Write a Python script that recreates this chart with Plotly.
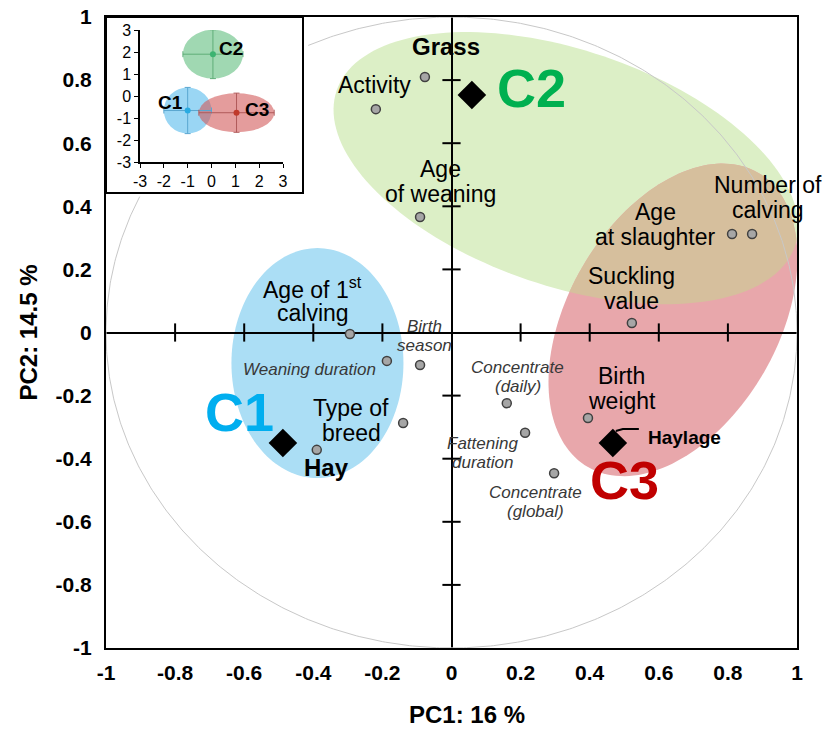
import numpy as np
import plotly.graph_objects as go

# ---------------- layout geometry ----------------
W, H = 830, 730
PL, PR, PT, PB = 106, 797, 17, 648   # plot box on the page
ML, MT = PL, PT
MR, MB = W - PR, H - PB
SX = (PR - PL) / 2.0   # px per data unit (x)
SY = (PB - PT) / 2.0   # px per data unit (y)
FONT = "Liberation Sans, Arial, sans-serif"

def paper_x(px):
    return (px - PL) / (PR - PL)

def paper_y(py):
    return (PB - py) / (PB - PT)

# ---------------- data ----------------
var_labels = ["Grass", "Activity", "Age<br>of weaning", "Number of<br>calving",
              "Age<br>at slaughter", "Suckling<br>value", "Age of 1<sup>st</sup><br>calving",
              "Birth<br>season", "Weaning duration", "Type of<br>breed", "Hay",
              "Concentrate<br>(daily)", "Birth<br>weight", "Fattening<br>duration",
              "Concentrate<br>(global)"]
pc1 = [-0.077, -0.219, -0.091, 0.870, 0.812, 0.522, -0.294, -0.091, -0.187,
       -0.140, -0.390, 0.160, 0.395, 0.213, 0.297]
pc2 = [0.810, 0.708, 0.366, 0.312, 0.312, 0.030, -0.005, -0.103, -0.090,
       -0.287, -0.372, -0.224, -0.271, -0.318, -0.446]
# label style: n = normal, b = bold, i = italic
var_style = ["b", "n", "n", "n", "n", "n", "n", "i", "i", "n", "b", "i", "n", "i", "i"]
# label offset from its point, px (right, up)
var_dx = [21, -1, 20, 16, -77, 0, -37, 4, -77, -52, 10, 11, 34, -43, -19]
var_dy = [30, 24, 36, 37, 10, 35, 34, 29, -9, 3, -18, 26, 30, -20, -29]

clusters = ["C1", "C2", "C3"]
clu_x = [-0.488, 0.059, 0.467]
clu_y = [-0.350, 0.753, -0.350]
clu_colors = ["#00aeef", "#00b050", "#c00000"]
clu_dx = [-43, 60, 12]
clu_dy = [31, 7, -37]
haylage_label = "Haylage"

x_ticks = [-1, -0.8, -0.6, -0.4, -0.2, 0, 0.2, 0.4, 0.6, 0.8, 1]
y_ticks = [-1, -0.8, -0.6, -0.4, -0.2, 0, 0.2, 0.4, 0.6, 0.8, 1]

# inset (cluster scores)
ins_x = [-1.0, 0.06, 1.05]
ins_y = [-0.66, 1.90, -0.76]
ins_sdx = [1.0, 1.26, 1.58]
ins_sdy = [1.05, 1.11, 0.89]
ins_ticks = [-3, -2, -1, 0, 1, 2, 3]

# ---------------- helpers ----------------
def fmt(v):
    return "%g" % v

def ell_poly(cx, cy, a, b, ang, n=160):
    t = np.linspace(0, 2 * np.pi, n, endpoint=False)
    th = np.radians(ang)
    dx = a * np.cos(th) * np.cos(t) - b * np.sin(th) * np.sin(t)
    dy = a * np.sin(th) * np.cos(t) + b * np.cos(th) * np.sin(t)
    return list(zip(cx + dx / SX, cy + dy / SY))

def poly_path(pts):
    return "M" + " L".join("%.5f,%.5f" % p for p in pts) + " Z"

def clip(subject, clipper):
    def inside(p, a, b):
        return (b[0] - a[0]) * (p[1] - a[1]) - (b[1] - a[1]) * (p[0] - a[0]) >= 0
    def inter(p, q, a, b):
        x1, y1 = p; x2, y2 = q; x3, y3 = a; x4, y4 = b
        den = (x1 - x2) * (y3 - y4) - (y1 - y2) * (x3 - x4)
        t = ((x1 - x3) * (y3 - y4) - (y1 - y3) * (x3 - x4)) / den
        return (x1 + t * (x2 - x1), y1 + t * (y2 - y1))
    out = subject
    for i in range(len(clipper)):
        a = clipper[i]; b = clipper[(i + 1) % len(clipper)]
        inp = out; out = []
        if not inp:
            break
        s = inp[-1]
        for e in inp:
            if inside(e, a, b):
                if not inside(s, a, b):
                    out.append(inter(s, e, a, b))
                out.append(e)
            elif inside(s, a, b):
                out.append(inter(s, e, a, b))
            s = e
    return out

# cluster regions (centre in data units, semi-axes in px, angle in deg)
ell_c1 = ell_poly(-0.388, -0.097, 86, 115, 0)
ell_c2 = ell_poly(0.331, 0.521, 242, 118, -18.7)
ell_c3 = ell_poly(0.641, 0.040, 170, 105, 60)
ell_23 = clip(ell_c2, ell_c3)

fig = go.Figure()

shapes = [
    dict(type="path", path=poly_path(ell_c1), fillcolor="#abdef5", line=dict(width=0), layer="below"),
    dict(type="path", path=poly_path(ell_c2), fillcolor="#dcefc6", line=dict(width=0), layer="below"),
    dict(type="path", path=poly_path(ell_c3), fillcolor="#e8a7ab", line=dict(width=0), layer="below"),
    dict(type="path", path=poly_path(ell_23), fillcolor="#d6bf9d", line=dict(width=0), layer="below"),
]

# inset box (paper)
INS_X1 = paper_x(303)
INS_Y0 = paper_y(193)
shapes.append(dict(type="rect", xref="paper", yref="paper", x0=0, x1=INS_X1, y0=INS_Y0, y1=1,
                   line=dict(color="black", width=2), fillcolor="rgba(0,0,0,0)"))

# inset ellipses
ins_fill = ["rgba(120,200,240,0.75)", "rgba(120,200,145,0.70)", "rgba(210,90,90,0.60)"]
for i in range(3):
    shapes.append(dict(type="circle", xref="x2", yref="y2",
                       x0=ins_x[i] - ins_sdx[i], x1=ins_x[i] + ins_sdx[i],
                       y0=ins_y[i] - ins_sdy[i], y1=ins_y[i] + ins_sdy[i],
                       fillcolor=ins_fill[i], line=dict(width=0), layer="below"))

# unit circle (hidden behind the inset)
t = np.linspace(0, 2 * np.pi, 721)
cx_, cy_ = np.cos(t), np.sin(t)
bx = -1 + 2 * INS_X1
by = -1 + 2 * INS_Y0
hide = [(x < bx + 0.01 and y > by - 0.01) for x, y in zip(cx_, cy_)]
cxl = [None if h else float(x) for x, h in zip(cx_, hide)]
cyl = [None if h else float(y) for y, h in zip(cy_, hide)]
fig.add_trace(go.Scatter(x=cxl, y=cyl, mode="lines", line=dict(color="#c8c8c8", width=1),
                         hoverinfo="skip", showlegend=False))

# tick marks on the centre axes
xt = [v for v in x_ticks if 0 < abs(v) < 1]
yt = [v for v in y_ticks if 0 < abs(v) < 1]
fig.add_trace(go.Scatter(x=xt, y=[0] * len(xt), mode="markers",
                         marker=dict(symbol="line-ns", size=13, line=dict(width=2, color="black")),
                         hoverinfo="skip", showlegend=False))
fig.add_trace(go.Scatter(x=[0] * len(yt), y=yt, mode="markers",
                         marker=dict(symbol="line-ew", size=13, line=dict(width=2, color="black")),
                         hoverinfo="skip", showlegend=False))

# Haylage connector (offsets in px from the C3 diamond)
con_dx = [3, 10, 26]
con_dy = [12, 14, 14]
fig.add_trace(go.Scatter(x=[clu_x[2] + d / SX for d in con_dx],
                         y=[clu_y[2] + d / SY for d in con_dy],
                         mode="lines", line=dict(color="black", width=2),
                         hoverinfo="skip", showlegend=False))

# variables
fig.add_trace(go.Scatter(x=pc1, y=pc2, mode="markers",
                         marker=dict(size=9, color="#a6a6a6", line=dict(width=1.5, color="#404040")),
                         showlegend=False))
# cluster centroids
fig.add_trace(go.Scatter(x=clu_x, y=clu_y, mode="markers",
                         marker=dict(symbol="diamond", size=22, color="black"),
                         showlegend=False))

# inset points with sd bars
ins_dot = ["#29abe2", "#3cb371", "#c0392b"]
ins_bar = ["#5aa6d0", "#5fae78", "#b05a5a"]
for i in range(3):
    fig.add_trace(go.Scatter(x=[ins_x[i]], y=[ins_y[i]], xaxis="x2", yaxis="y2", mode="markers",
                             marker=dict(size=6, color=ins_dot[i]),
                             error_x=dict(type="data", array=[ins_sdx[i]], color=ins_bar[i], thickness=1, width=3),
                             error_y=dict(type="data", array=[ins_sdy[i]], color=ins_bar[i], thickness=1, width=3),
                             showlegend=False))

annotations = []
STYLE = {"n": (23, "black", 25, "", ""),
         "b": (24, "black", 26, "<b>", "</b>"),
         "i": (17, "#383838", 19, "<i>", "</i>")}
for i, lab in enumerate(var_labels):
    size, col, ls, o, c = STYLE[var_style[i]]
    lines = lab.split("<br>")
    n = len(lines)
    for k, ln in enumerate(lines):
        annotations.append(dict(x=pc1[i], y=pc2[i], xref="x", yref="y", text=o + ln + c,
                                showarrow=False, xanchor="center", yanchor="middle",
                                xshift=var_dx[i], yshift=var_dy[i] + (n - 1) / 2 * ls - k * ls,
                                font=dict(family=FONT, size=size, color=col)))

for i, c in enumerate(clusters):
    annotations.append(dict(x=clu_x[i], y=clu_y[i], xref="x", yref="y", text="<b>" + c + "</b>",
                            showarrow=False, xanchor="center", yanchor="middle",
                            xshift=clu_dx[i], yshift=clu_dy[i],
                            font=dict(family=FONT, size=54, color=clu_colors[i])))
annotations.append(dict(x=clu_x[2], y=clu_y[2], xref="x", yref="y", text="<b>" + haylage_label + "</b>",
                        showarrow=False, xanchor="left", yanchor="middle", xshift=33, yshift=5,
                        font=dict(family=FONT, size=19, color="black")))

# inset cluster labels
ins_lx = [-1.74, 0.80, 1.92]
ins_ly = [-0.30, 2.18, -0.62]
for i, c in enumerate(clusters):
    annotations.append(dict(x=ins_lx[i], y=ins_ly[i], xref="x2", yref="y2", text="<b>" + c + "</b>",
                            showarrow=False, xanchor="center", yanchor="middle",
                            font=dict(family=FONT, size=19, color="black")))

# axis titles
annotations.append(dict(x=paper_x(467), y=paper_y(714), xref="paper", yref="paper",
                        text="<b>PC1: 16 %</b>", showarrow=False, xanchor="center", yanchor="middle",
                        font=dict(family=FONT, size=24, color="black")))
annotations.append(dict(x=paper_x(28), y=0.5, xref="paper", yref="paper",
                        text="<b>PC2: 14.5 %</b>", showarrow=False, textangle=-90,
                        xanchor="center", yanchor="middle",
                        font=dict(family=FONT, size=24, color="black")))

tickfont = dict(family=FONT, size=21, color="black", weight="bold")
ins_font = dict(family=FONT, size=16, color="black")
fig.update_layout(
    width=W, height=H, margin=dict(l=ML, r=MR, t=MT, b=MB, autoexpand=False),
    paper_bgcolor="white", plot_bgcolor="white",
    shapes=shapes, annotations=annotations, showlegend=False,
    xaxis=dict(range=[-1, 1], tickvals=x_ticks, ticktext=[fmt(v) for v in x_ticks],
               showgrid=False, zeroline=True, zerolinecolor="black", zerolinewidth=2,
               showline=True, mirror=True, linecolor="black", linewidth=2, ticks="",
               ticklabelstandoff=5, tickfont=tickfont, automargin=False,
               ticklabeloverflow="allow"),
    yaxis=dict(range=[-1, 1], tickvals=y_ticks, ticktext=[fmt(v) for v in y_ticks],
               showgrid=False, zeroline=True, zerolinecolor="black", zerolinewidth=2,
               showline=True, mirror=True, linecolor="black", linewidth=2, ticks="",
               ticklabelstandoff=8, tickfont=tickfont, automargin=False,
               ticklabeloverflow="allow"),
    xaxis2=dict(domain=[paper_x(140), paper_x(283)], anchor="y2",
                range=[-3, 3], tickvals=ins_ticks, ticktext=[fmt(v) for v in ins_ticks],
                showgrid=False, zeroline=False,
                showline=True, linecolor="black", linewidth=1.5, ticks="outside", ticklen=4,
                tickcolor="black", tickfont=ins_font, automargin=False),
    yaxis2=dict(domain=[paper_y(162), paper_y(30)], anchor="x2",
                range=[-3, 3], tickvals=ins_ticks, ticktext=[fmt(v) for v in ins_ticks],
                showgrid=False, zeroline=False,
                showline=True, linecolor="black", linewidth=1.5, ticks="outside", ticklen=4,
                tickcolor="black", tickfont=ins_font, automargin=False),
)

fig.write_html("out.html", config={"displayModeBar": False},
               post_script="document.body.style.margin='0';")
